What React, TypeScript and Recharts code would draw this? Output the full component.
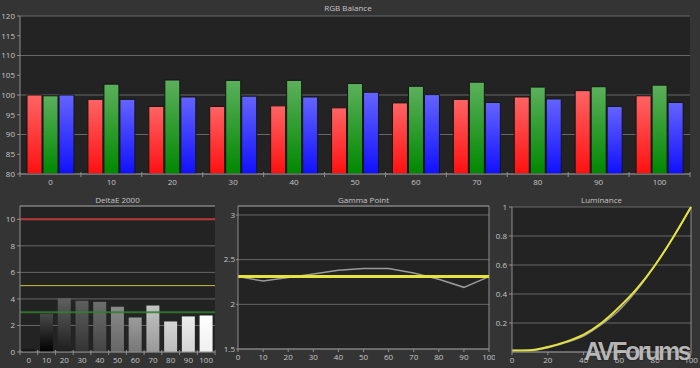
import React from 'react';
import { BarChart, Bar, LineChart, Line, XAxis, YAxis, CartesianGrid, ReferenceLine, Cell } from 'recharts';

// stimulus levels (% grey)
const levels = ['0', '10', '20', '30', '40', '50', '60', '70', '80', '90', '100'];
const levelNums = [0, 10, 20, 30, 40, 50, 60, 70, 80, 90, 100];

// RGB balance (%)
const redVals = [100.0, 98.9, 97.1, 97.1, 97.25, 96.75, 98.0, 98.9, 99.5, 101.1, 99.8];
const greenVals = [99.8, 102.75, 103.8, 103.7, 103.7, 102.9, 102.2, 103.25, 102.0, 102.1, 102.5];
const blueVals = [100.0, 98.9, 99.5, 99.7, 99.5, 100.7, 100.1, 98.1, 99.0, 97.1, 98.1];
const rgbTicks = [80, 85, 90, 95, 100, 105, 110, 115, 120];

// DeltaE 2000
const deltaE = [0.25, 2.88, 4.06, 3.86, 3.78, 3.41, 2.6, 3.5, 2.3, 2.68, 2.75];
const deltaTicks = [0, 2, 4, 6, 8, 10];
const deltaLimits = { red: 10, yellow: 5, green: 3 };

// Gamma
const gammaMeasured = [2.31, 2.26, 2.3, 2.34, 2.38, 2.4, 2.4, 2.35, 2.28, 2.19, 2.31];
const gammaTarget = 2.31;
const gammaTicks = [1.5, 2, 2.5, 3];

// Luminance
const lumTarget = [0.01, 0.012, 0.035, 0.07, 0.12, 0.2, 0.31, 0.44, 0.6, 0.79, 1.0];
const lumMeasured = [0.01, 0.01, 0.03, 0.065, 0.11, 0.19, 0.29, 0.43, 0.6, 0.79, 1.0];
const lumYTicks = [0.2, 0.4, 0.6, 0.8, 1];
const lumXTicks = [0, 20, 40, 60, 80, 100];

const rgbData = levels.map((l, i) => ({ level: l, r: redVals[i], g: greenVals[i], b: blueVals[i] }));
const deltaData = levels.map((l, i) => ({ level: l, de: deltaE[i] }));
const gammaData = levelNums.map((x, i) => ({ x, gamma: gammaMeasured[i] }));
const lumData = levelNums.map((x, i) => ({ x, target: lumTarget[i], measured: lumMeasured[i] }));

// grey shades for the deltaE bars (top / bottom of gradient)
const shadeTop = ['#1c1c1c', '#4a4a4a', '#606060', '#5e5e5e', '#6e6e6e', '#8a8a8a', '#9c9c9c', '#c4c4c4', '#d6d6d6', '#ececec', '#ffffff'];
const shadeBot = ['#0a0a0a', '#000000', '#1e1e1e', '#333333', '#444444', '#666666', '#777777', '#999999', '#bbbbbb', '#d4d4d4', '#f0f0f0'];

const FONT = '"Open Sans", "DejaVu Sans", sans-serif';
const TXT = '#c6c6c6';
const GRID = '#686868';
const EDGE = '#8e8e8e';
const PLOT_BG = '#232323';
const tick = { fontSize: 8, fill: TXT, fontFamily: FONT };

const BandTick = (props: any) => {
  const { x, y, payload, index, visibleTicksCount } = props;
  const half = payload?.offset ?? 0;
  const last = index === (visibleTicksCount ?? levels.length) - 1;
  return (
    <g>
      <line x1={x - half} x2={x - half} y1={y - 7} y2={y - 2} stroke={EDGE} />
      {last && <line x1={x + half} x2={x + half} y1={y - 7} y2={y - 2} stroke={EDGE} />}
      <text x={x} y={y} dy="0.71em" textAnchor="middle" fontSize={8} fill={TXT} fontFamily={FONT}>
        {payload.value}
      </text>
    </g>
  );
};

const Title = ({ x, y, w, text }: { x: number; y: number; w: number; text: string }) => (
  <div style={{ position: 'absolute', left: x, top: y, width: w, textAlign: 'center', fontSize: 8, color: TXT, fontFamily: FONT, lineHeight: '10px' }}>
    {text}
  </div>
);

export default function App() {
  return (
    <div style={{ position: 'absolute', left: 0, top: 0, width: 700, height: 368, background: '#343434', overflow: 'hidden' }}>
      <Title x={0} y={3} w={696} text="RGB Balance" />
      <div style={{ position: 'absolute', left: 0, top: 0 }}>
        <BarChart width={700} height={190} data={rgbData} margin={{ top: 16, right: 10, left: 0, bottom: 0 }} barCategoryGap="11.5%" barGap={1}>
          <defs>
            <linearGradient id="gR" x1="0" y1="0" x2="0" y2="1">
              <stop offset="0%" stopColor="#ff6464" />
              <stop offset="100%" stopColor="#ff1010" />
            </linearGradient>
            <linearGradient id="gG" x1="0" y1="0" x2="0" y2="1">
              <stop offset="0%" stopColor="#5cb05c" />
              <stop offset="100%" stopColor="#008800" />
            </linearGradient>
            <linearGradient id="gB" x1="0" y1="0" x2="0" y2="1">
              <stop offset="0%" stopColor="#6464ff" />
              <stop offset="100%" stopColor="#1010ff" />
            </linearGradient>
          </defs>
          <CartesianGrid vertical={false} stroke={GRID} fill={PLOT_BG} fillOpacity={1} />
          <XAxis dataKey="level" height={16} tickLine={false} tickSize={3} tickMargin={2} axisLine={{ stroke: EDGE }} tick={<BandTick />} interval={0} />
          <YAxis width={20} domain={[80, 120]} ticks={rgbTicks} allowDataOverflow tick={tick} tickSize={3} tickMargin={2} tickLine={{ stroke: EDGE }} axisLine={{ stroke: EDGE }} />
          <YAxis yAxisId="edge" orientation="right" width={0} tick={false} tickLine={false} axisLine={{ stroke: EDGE }} />
          <Bar dataKey="r" fill="url(#gR)" stroke="#151515" strokeWidth={1} isAnimationActive={false} />
          <Bar dataKey="g" fill="url(#gG)" stroke="#151515" strokeWidth={1} isAnimationActive={false} />
          <Bar dataKey="b" fill="url(#gB)" stroke="#151515" strokeWidth={1} isAnimationActive={false} />
        </BarChart>
      </div>

      <Title x={20} y={195} w={195} text="DeltaE 2000" />
      <div style={{ position: 'absolute', left: 0, top: 190 }}>
        <BarChart width={230} height={178} data={deltaData} margin={{ top: 16, right: 15, left: 0, bottom: 0 }} barCategoryGap="13%">
          <defs>
            {shadeTop.map((c, i) => (
              <linearGradient key={i} id={`gd${i}`} x1="0" y1="0" x2="0" y2="1">
                <stop offset="0%" stopColor={c} />
                <stop offset="100%" stopColor={shadeBot[i]} />
              </linearGradient>
            ))}
          </defs>
          <CartesianGrid vertical={false} stroke={GRID} fill={PLOT_BG} fillOpacity={1} />
          <XAxis dataKey="level" height={16} tickLine={false} tickSize={3} tickMargin={2} axisLine={{ stroke: EDGE }} tick={<BandTick />} interval={0} />
          <YAxis width={20} domain={[0, 11]} ticks={deltaTicks} allowDataOverflow tick={tick} tickSize={3} tickMargin={2} tickLine={{ stroke: EDGE }} axisLine={{ stroke: EDGE }} />
          <YAxis yAxisId="edge" orientation="right" width={0} tick={false} tickLine={false} axisLine={{ stroke: EDGE }} />
          <ReferenceLine y={11} stroke={EDGE} />
          <Bar dataKey="de" isAnimationActive={false}>
            {deltaData.map((d, i) => (
              <Cell key={d.level} fill={`url(#gd${i})`} />
            ))}
          </Bar>
          <ReferenceLine y={deltaLimits.red} stroke="#b83838" strokeWidth={2} />
          <ReferenceLine y={deltaLimits.yellow} stroke="#c8c23a" strokeWidth={1} />
          <ReferenceLine y={deltaLimits.green} stroke="#2f7f2f" strokeWidth={2} strokeOpacity={0.85} />
        </BarChart>
      </div>

      <Title x={238} y={195} w={251} text="Gamma Point" />
      <div style={{ position: 'absolute', left: 222, top: 190 }}>
        <LineChart width={273} height={178} data={gammaData} margin={{ top: 16, right: 6, left: 0, bottom: 0 }}>
          <CartesianGrid vertical={false} stroke={GRID} fill={PLOT_BG} fillOpacity={1} />
          <XAxis dataKey="x" type="number" domain={[0, 100]} ticks={levelNums} height={19} tick={tick} tickSize={3} tickMargin={2} tickLine={{ stroke: EDGE }} axisLine={{ stroke: EDGE }} interval={0} />
          <YAxis width={16} domain={[1.5, 3.1]} ticks={gammaTicks} allowDataOverflow tick={tick} tickSize={2} tickMargin={1} tickLine={{ stroke: EDGE }} axisLine={{ stroke: EDGE }} />
          <ReferenceLine y={3.1} stroke={EDGE} />
          <ReferenceLine x={100} stroke={EDGE} />
          <Line dataKey="gamma" stroke="#9a9a9a" strokeWidth={1.5} dot={false} isAnimationActive={false} />
          <ReferenceLine y={gammaTarget} stroke="#e6e43c" strokeWidth={3} />
        </LineChart>
      </div>

      <Title x={512} y={195} w={179} text="Luminance" />
      <div style={{ position: 'absolute', left: 490, top: 190 }}>
        <LineChart width={210} height={178} data={lumData} margin={{ top: 17, right: 9, left: 0, bottom: 0 }}>
          <CartesianGrid vertical={false} stroke={GRID} fill={PLOT_BG} fillOpacity={1} />
          <XAxis dataKey="x" type="number" domain={[0, 100]} ticks={lumXTicks} height={16} tick={tick} tickSize={3} tickMargin={2} tickLine={{ stroke: EDGE }} axisLine={{ stroke: EDGE }} interval={0} />
          <YAxis width={22} domain={[0, 1]} ticks={lumYTicks} tick={tick} tickSize={3} tickMargin={2} tickLine={{ stroke: EDGE }} axisLine={{ stroke: EDGE }} />
          <ReferenceLine x={100} stroke={EDGE} />
          <Line dataKey="measured" type="monotone" stroke="#9a9a9a" strokeWidth={1.5} dot={false} isAnimationActive={false} />
          <Line dataKey="target" type="monotone" stroke="#e6e43c" strokeWidth={2} dot={false} isAnimationActive={false} />
        </LineChart>
      </div>

      <div style={{ position: 'absolute', left: 584, top: 336, fontFamily: '"Liberation Sans", Arial, sans-serif', fontWeight: 'bold', fontSize: 25, letterSpacing: -2.4, color: 'rgba(205,205,205,0.88)', textShadow: '0 0 2px rgba(0,0,0,0.6)', lineHeight: '30px' }}>
        AVForums
      </div>
    </div>
  );
}
